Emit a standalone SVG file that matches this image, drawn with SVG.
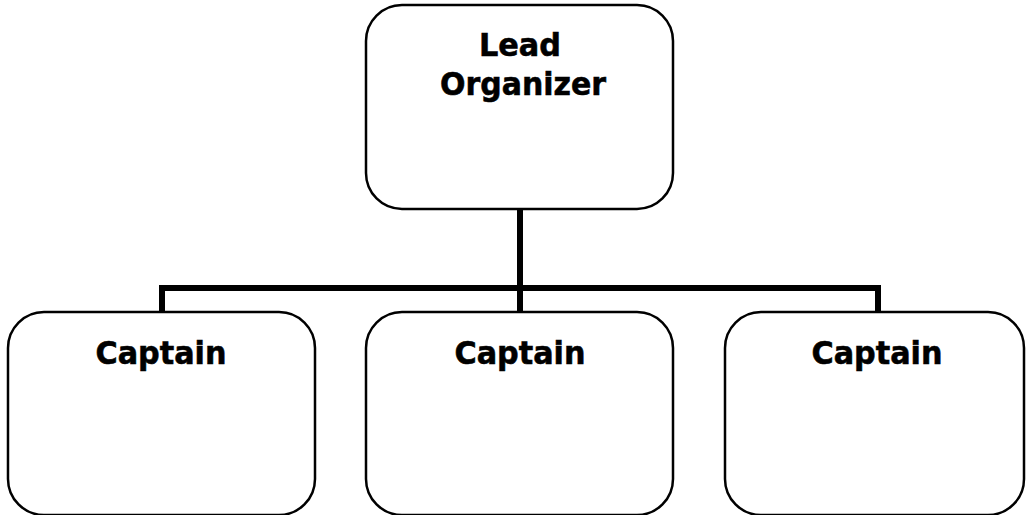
<svg xmlns="http://www.w3.org/2000/svg" width="1026" height="515" viewBox="0 0 1026 515">
<style>
.box{fill:#fff;stroke:#000;stroke-width:2.5}
.lbl{font-family:"DejaVu Sans",Verdana,sans-serif;font-weight:bold;font-size:32.5px;fill:#000;stroke:#000;stroke-width:0.6;text-anchor:middle}
.conn{fill:none;stroke:#000;stroke-width:6;stroke-linejoin:miter;stroke-linecap:butt}
</style>
<rect width="1026" height="515" fill="#fff"/>
<g id="connectors">
<path class="conn" d="M520 209 V312"/>
<path class="conn" d="M162 312 V288 H878 V312"/>
</g>
<g id="lead">
<rect class="box" x="366" y="5" width="307" height="204" rx="36" ry="36"/>
<text class="lbl" x="520" y="56" textLength="82" lengthAdjust="spacingAndGlyphs">Lead</text>
<text class="lbl" x="523" y="95" textLength="166" lengthAdjust="spacingAndGlyphs">Organizer</text>
</g>
<g id="captain1">
<rect class="box" x="8" y="312" width="307" height="203" rx="36" ry="36"/>
<text class="lbl" x="161" y="364" textLength="131" lengthAdjust="spacingAndGlyphs">Captain</text>
</g>
<g id="captain2">
<rect class="box" x="366" y="312" width="307" height="203" rx="36" ry="36"/>
<text class="lbl" x="520" y="364" textLength="131" lengthAdjust="spacingAndGlyphs">Captain</text>
</g>
<g id="captain3">
<rect class="box" x="725" y="312" width="299" height="203" rx="36" ry="36"/>
<text class="lbl" x="877" y="364" textLength="131" lengthAdjust="spacingAndGlyphs">Captain</text>
</g>
</svg>
